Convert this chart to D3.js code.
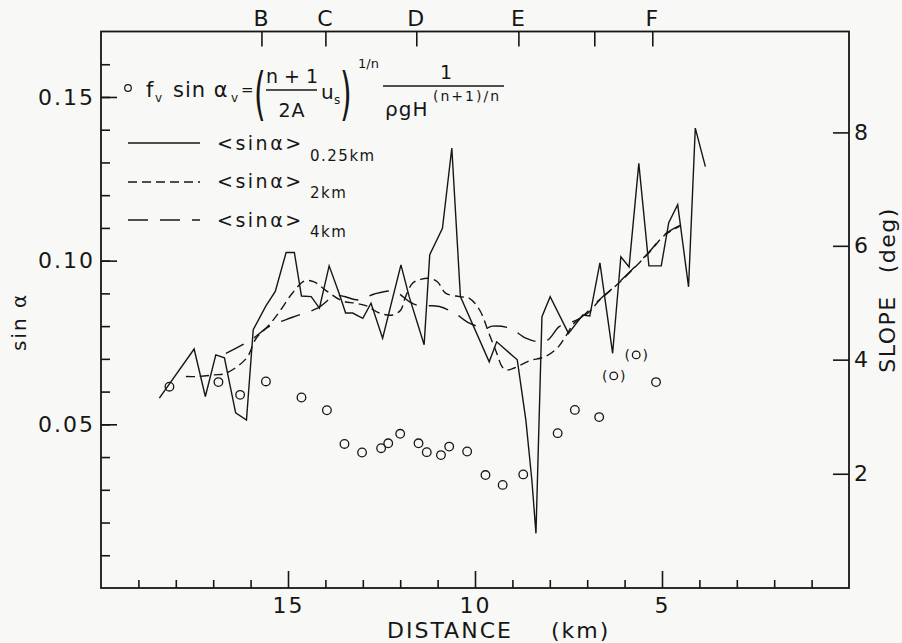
<!DOCTYPE html>
<html>
<head>
<meta charset="utf-8">
<script src="https://cdn.jsdelivr.net/npm/d3@7"></script>
<style>
  body { margin: 0; background: #f8f9f7; }
  svg { display: block; font-family: "DejaVu Sans", sans-serif; }
</style>
</head>
<body>
<svg id="chart" width="902" height="643"></svg>
<script>
// distance (km) , sin(alpha)
const line025 = [
  [18.44, 0.0580], [17.51, 0.0730], [17.21, 0.0585], [16.93, 0.0712], [16.70, 0.0703],
  [16.40, 0.0535], [16.11, 0.0513], [15.93, 0.0789], [15.59, 0.0862], [15.34, 0.0906],
  [15.05, 0.1025], [14.83, 0.1025], [14.64, 0.0892], [14.38, 0.0890], [14.16, 0.0855],
  [13.90, 0.0984], [13.62, 0.0896], [13.46, 0.0840], [13.27, 0.0840], [13.00, 0.0824],
  [12.78, 0.0870], [12.47, 0.0763], [11.98, 0.0987], [11.76, 0.0890], [11.36, 0.0743],
  [11.21, 0.1018], [10.87, 0.1099], [10.62, 0.1344], [10.39, 0.0890], [9.62, 0.0691],
  [9.42, 0.0752], [8.87, 0.0697], [8.64, 0.0513], [8.48, 0.0330], [8.37, 0.0167],
  [8.21, 0.0829], [7.99, 0.0890], [7.50, 0.0778], [7.12, 0.0834], [6.93, 0.0831],
  [6.66, 0.0993], [6.32, 0.0717], [6.10, 0.1012], [5.88, 0.0981], [5.62, 0.1297],
  [5.35, 0.0984], [5.02, 0.0984], [4.82, 0.1116], [4.58, 0.1171], [4.29, 0.0920],
  [4.11, 0.1405], [3.84, 0.1287]
];

const line2km = [
  [17.73, 0.0646], [17.43, 0.0646], [16.97, 0.0651], [16.66, 0.0656], [16.11, 0.0702],
  [15.85, 0.0763], [15.50, 0.0804], [15.23, 0.0844], [14.88, 0.0901], [14.56, 0.0938],
  [14.30, 0.0935], [14.00, 0.0910], [13.55, 0.0877], [13.20, 0.0870], [12.90, 0.0862],
  [12.56, 0.0840], [12.20, 0.0834], [11.98, 0.0850], [11.89, 0.0880], [11.67, 0.0931],
  [11.45, 0.0943], [11.22, 0.0946], [11.00, 0.0935], [10.79, 0.0901], [10.42, 0.0890],
  [10.15, 0.0885], [9.88, 0.0850], [9.61, 0.0773], [9.43, 0.0721], [9.27, 0.0675],
  [9.14, 0.0666], [8.95, 0.0672], [8.55, 0.0694], [8.14, 0.0706], [7.80, 0.0733],
  [7.58, 0.0768], [7.34, 0.0810], [6.94, 0.0844], [6.68, 0.0878], [6.14, 0.0933],
  [5.34, 0.1025], [4.94, 0.1077], [4.53, 0.1105]
];

const line4km = [
  [16.66, 0.0717], [15.99, 0.0758], [15.50, 0.0799], [14.88, 0.0827], [14.21, 0.0855],
  [13.71, 0.0893], [13.10, 0.0880], [12.69, 0.0898], [12.16, 0.0906], [11.76, 0.0875],
  [11.58, 0.0865], [11.13, 0.0862], [10.95, 0.0860], [10.55, 0.0840], [10.15, 0.0809],
  [9.71, 0.0794], [9.53, 0.0800], [9.08, 0.0794], [8.64, 0.0763], [8.35, 0.0753],
  [8.05, 0.0758], [7.74, 0.0799], [7.22, 0.0822], [6.68, 0.0880], [6.14, 0.0935],
  [5.34, 0.1027], [4.94, 0.1079], [4.49, 0.1109]
];

// f_v sin(alpha_v) points
const circKm  = [18.17, 16.86, 16.28, 15.59, 14.64, 13.96, 13.49, 13.02, 12.51, 12.32, 12.00, 11.51,
                 11.29, 10.91, 10.69, 10.21, 9.72, 9.26, 8.71, 7.79, 7.33, 6.68, 5.16];
const circSin = [0.0615, 0.0629, 0.0590, 0.0631, 0.0582, 0.0543, 0.0440, 0.0414, 0.0427, 0.0442, 0.0471, 0.0442,
                 0.0415, 0.0406, 0.0432, 0.0417, 0.0345, 0.0315, 0.0347, 0.0473, 0.0544, 0.0522, 0.0629];
const parenKm  = [6.29, 5.69];
const parenSin = [0.0648, 0.0712];

const leftMajor = [0.05, 0.10, 0.15];
const leftLabels = ['0.05', '0.10', '0.15'];
const leftMinor = d3.range(1, 17).map(i => i / 100);
const bottomMajor = [15, 10, 5];
const bottomLabels = ['15', '10', '5'];
const bottomMinor = d3.range(1, 20).filter(k => k % 5 !== 0);
const topKm = [15.71, 14.0, 11.57, 8.84, 6.81, 5.26];
const topLabels = ['B', 'C', 'D', 'E', '', 'F'];
const slopeDeg = [2, 4, 6, 8];

const ink = '#161616';
const svg = d3.select('#chart');

const x = d3.scaleLinear().domain([20, 0]).range([101, 849]);
const y = d3.scaleLinear().domain([0, 0.17]).range([588, 31.5]);

function styleAxis(sel, size) {
  sel.attr('font-family', null).attr('font-size', null);
  sel.select('.domain').remove();
  sel.selectAll('line').attr('stroke', ink).attr('stroke-width', 1.6);
  sel.selectAll('text').attr('fill', ink).style('font-size', size + 'px').style('letter-spacing', '2px');
}

// frame
svg.append('rect')
  .attr('x', x(20)).attr('y', y(0.17))
  .attr('width', x(0) - x(20)).attr('height', y(0) - y(0.17))
  .attr('fill', 'none').attr('stroke', ink).attr('stroke-width', 1.8);

// left axis
svg.append('g').attr('transform', `translate(${x(20)},0)`)
  .call(d3.axisLeft(y).tickValues(leftMinor).tickSize(-9).tickFormat(''))
  .call(s => styleAxis(s, 22));
svg.append('g').attr('transform', `translate(${x(20)},0)`)
  .call(d3.axisLeft(y).tickValues(leftMajor).tickSize(-16).tickPadding(6)
    .tickFormat((d, i) => leftLabels[i]))
  .call(s => styleAxis(s, 22));

// bottom axis
svg.append('g').attr('transform', `translate(0,${y(0)})`)
  .call(d3.axisBottom(x).tickValues(bottomMinor).tickSize(-8).tickFormat(''))
  .call(s => styleAxis(s, 22));
svg.append('g').attr('transform', `translate(0,${y(0)})`)
  .call(d3.axisBottom(x).tickValues(bottomMajor).tickSize(-17).tickPadding(9)
    .tickFormat((d, i) => bottomLabels[i]))
  .call(s => styleAxis(s, 22));

// top axis (letters)
svg.append('g').attr('transform', `translate(0,${y(0.17)})`)
  .call(d3.axisTop(x).tickValues(topKm).tickSize(-15).tickPadding(6)
    .tickFormat((d, i) => topLabels[i]))
  .call(s => styleAxis(s, 22));

// right axis (slope, deg)
svg.append('g').attr('transform', `translate(${x(0)},0)`)
  .call(d3.axisRight(y).tickValues(slopeDeg.map(dg => Math.sin(dg * Math.PI / 180)))
    .tickSize(-16).tickPadding(5).tickFormat((d, i) => slopeDeg[i]))
  .call(s => styleAxis(s, 22));

// axis titles
const title = (t) => t.attr('fill', ink).style('font-size', '22px').style('letter-spacing', '2px');
svg.append('text').attr('x', 387).attr('y', 638).call(title)
  .text('DISTANCE')
  .append('tspan').attr('dx', 38).text('(km)');
svg.append('text').attr('transform', 'translate(26,322) rotate(-90)')
  .attr('text-anchor', 'middle').call(title).style('font-size', '20px').text('sin α');
svg.append('text').attr('transform', 'translate(895,290) rotate(-90)')
  .attr('text-anchor', 'middle').call(title).style('letter-spacing', '1.5px')
  .text('SLOPE')
  .append('tspan').attr('dx', 22).text('(deg)');

// lines
const line = d3.line().x(d => x(d[0])).y(d => y(d[1]));
const smooth = d3.line().x(d => x(d[0])).y(d => y(d[1])).curve(d3.curveCatmullRom.alpha(0.5));

svg.append('path').datum(line4km).attr('d', smooth)
  .attr('fill', 'none').attr('stroke', ink).attr('stroke-width', 1.4).attr('stroke-dasharray', '20,12');
svg.append('path').datum(line2km).attr('d', smooth)
  .attr('fill', 'none').attr('stroke', ink).attr('stroke-width', 1.4).attr('stroke-dasharray', '9,5');
svg.append('path').datum(line025).attr('d', line)
  .attr('fill', 'none').attr('stroke', ink).attr('stroke-width', 1.4).attr('stroke-linejoin', 'miter');

// circles
svg.append('g').selectAll('circle')
  .data(circKm.map((k, i) => [k, circSin[i]]))
  .join('circle')
  .attr('cx', d => x(d[0])).attr('cy', d => y(d[1])).attr('r', 4.3)
  .attr('fill', 'none').attr('stroke', ink).attr('stroke-width', 1.3);

const paren = svg.append('g').selectAll('g')
  .data(parenKm.map((k, i) => [k, parenSin[i]]))
  .join('g')
  .attr('transform', d => `translate(${x(d[0])},${y(d[1])})`);
paren.append('circle').attr('r', 3.8)
  .attr('fill', 'none').attr('stroke', ink).attr('stroke-width', 1.3);
paren.append('text').attr('x', -9).attr('y', 5).attr('text-anchor', 'middle')
  .attr('fill', ink).style('font-size', '14px').text('(');
paren.append('text').attr('x', 9).attr('y', 5).attr('text-anchor', 'middle')
  .attr('fill', ink).style('font-size', '14px').text(')');

// legend: formula
const lg = svg.append('g').attr('fill', ink);
const tx = (px, py, size, str, anchor) => lg.append('text').attr('x', px).attr('y', py)
  .attr('text-anchor', anchor || 'start').style('font-size', size + 'px').text(str);

lg.append('circle').attr('cx', 128).attr('cy', 88).attr('r', 3.3)
  .attr('fill', 'none').attr('stroke', ink).attr('stroke-width', 1.2);
tx(146, 97, 21, 'f');
tx(155, 102, 12, 'v');
tx(173, 97, 21, 'sin α').style('letter-spacing', '1px');
tx(231, 102, 12, 'v');
tx(241, 95, 15, '=');
lg.append('text').attr('transform', 'translate(254,113) scale(1,1.9)').style('font-size', '30px').text('(');
tx(292, 83, 19, 'n + 1', 'middle');
lg.append('line').attr('x1', 266).attr('x2', 317).attr('y1', 90).attr('y2', 90)
  .attr('stroke', ink).attr('stroke-width', 1.4);
tx(292, 117, 19, '2A', 'middle').style('letter-spacing', '1px');
tx(321, 99, 20, 'u');
tx(334, 104, 12, 's');
lg.append('text').attr('transform', 'translate(340,113) scale(1,1.9)').style('font-size', '30px').text(')');
tx(358, 68, 13, '1/n');
lg.append('line').attr('x1', 383).attr('x2', 504).attr('y1', 86).attr('y2', 86)
  .attr('stroke', ink).attr('stroke-width', 1.4);
tx(446, 79, 19, '1', 'middle');
tx(385, 116, 20, 'ρgH').style('letter-spacing', '1px');
tx(433, 101, 14, '(n+1)/n').style('letter-spacing', '2px');

// legend: line samples
const legendRows = [
  { y: 143, dash: null, tb: 150, sub: '0.25km', sb: 161 },
  { y: 182, dash: '9,5', tb: 188, sub: '2km', sb: 198 },
  { y: 220, dash: '20,12', tb: 227, sub: '4km', sb: 237 }
];
legendRows.forEach(r => {
  lg.append('line').attr('x1', 128).attr('x2', 200).attr('y1', r.y).attr('y2', r.y)
    .attr('stroke', ink).attr('stroke-width', 1.4).attr('stroke-dasharray', r.dash);
  tx(217, r.tb, 19, '<sinα>').style('letter-spacing', '2.5px');
  tx(310, r.sb, 15, r.sub).style('letter-spacing', '1.5px');
});
</script>
</body>
</html>
